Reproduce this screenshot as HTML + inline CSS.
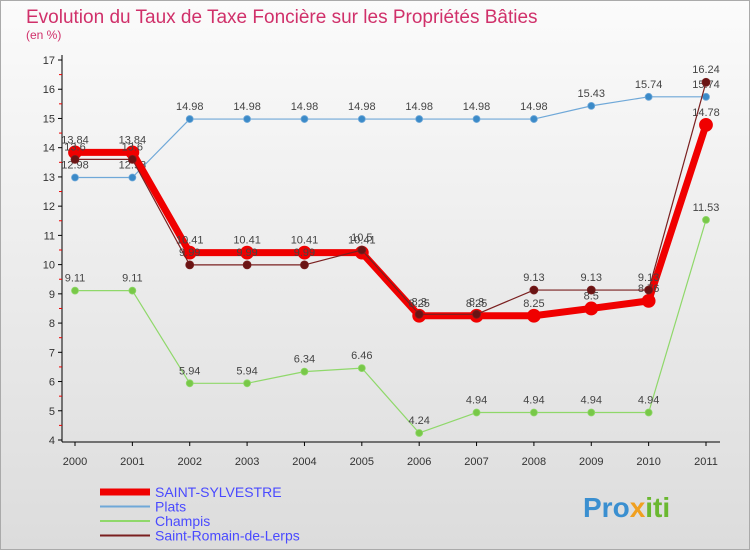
<!DOCTYPE html>
<html><head><meta charset="utf-8"><style>
body{margin:0;width:750px;height:550px;overflow:hidden;font-family:"Liberation Sans",sans-serif}
</style></head><body>
<svg width="750" height="550" xmlns="http://www.w3.org/2000/svg">
<defs><linearGradient id="bg" x1="0" y1="0" x2="0" y2="1"><stop offset="0" stop-color="#fbfbfb"/><stop offset="1" stop-color="#dcdcdc"/></linearGradient></defs>
<rect x="0.5" y="0.5" width="749" height="549" fill="url(#bg)" stroke="#aaa"/>
<text x="26" y="23" font-size="19" fill="#d0306a">Evolution du Taux de Taxe Foncière sur les Propriétés Bâties</text>
<text x="26" y="39" font-size="12" fill="#d0306a">(en %)</text>
<g id="axes"></g><g id="series"></g><g id="legend"></g>
<text x="583" y="517" font-size="28" font-weight="bold" fill="#3a8fd0">Pro<tspan fill="#f0a020">x</tspan><tspan fill="#6ab830">iti</tspan></text>
</svg>
<script>
const years=["2000","2001","2002","2003","2004","2005","2006","2007","2008","2009","2010","2011"];
const yTicks=[4,5,6,7,8,9,10,11,12,13,14,15,16,17];
const sylvestre=[13.84,13.84,10.41,10.41,10.41,10.41,8.25,8.25,8.25,8.5,8.76,14.78];
const plats=[12.98,12.98,14.98,14.98,14.98,14.98,14.98,14.98,14.98,15.43,15.74,15.74];
const champis=[9.11,9.11,5.94,5.94,6.34,6.46,4.24,4.94,4.94,4.94,4.94,11.53];
const romain=[13.6,13.6,9.99,9.99,9.99,10.5,8.3,8.3,9.13,9.13,9.13,16.24];
const NS="http://www.w3.org/2000/svg";
const xs=i=>75+i*(706-75)/11;
const ys=v=>440-(v-4)*(380/13);
function mk(p,tag,at){const e=document.createElementNS(NS,tag);for(const k in at)e.setAttribute(k,at[k]);p.appendChild(e);return e;}
const ax=document.getElementById('axes');
let l=mk(ax,'line',{x1:62,y1:55,x2:62,y2:442,stroke:'#000'});


l=mk(ax,'line',{x1:62,y1:442,x2:720,y2:442,stroke:'#000'});


yTicks.forEach(v=>{const y=ys(v);
 mk(ax,'line',{x1:58,y1:y,x2:62,y2:y,stroke:'#000'});
 if(v<17)mk(ax,'line',{x1:59,y1:ys(v+0.5),x2:62,y2:ys(v+0.5),stroke:'#e00'});
 const t=mk(ax,'text',{x:55,y:y+4,'font-size':11,fill:'#333','text-anchor':'end'});t.textContent=v;
 
 });
years.forEach((yr,i)=>{const t=mk(ax,'text',{x:xs(i),y:465,'font-size':11,fill:'#333','text-anchor':'middle'});t.textContent=yr;
 
 
 mk(ax,'line',{x1:xs(i),y1:442,x2:xs(i),y2:446,stroke:'#000'});});
const sg=document.getElementById('series');
function draw(name,vals,color,w,r,dot){
 const g=mk(sg,'g',{});
 
 
 const pl=mk(g,'polyline',{points:vals.map((v,i)=>xs(i)+','+ys(v)).join(' '),fill:'none',stroke:color,'stroke-width':w,'stroke-linejoin':'round'});
 
 
 vals.forEach((v,i)=>{const c=mk(g,'circle',{cx:xs(i),cy:ys(v),r:r,fill:dot,stroke:color,'stroke-width':0.8});
  
  
  const t=mk(g,'text',{x:xs(i),y:ys(v)-9,'font-size':11,fill:'#444','text-anchor':'middle'});t.textContent=v;
  
  });
}
draw('champis',champis,'#8fd86a',1.2,3.5,'#78c848');
draw('plats',plats,'#6fa8d8',1.2,3.5,'#3b8ac8');
draw('sylvestre',sylvestre,'#f00000',7,6.5,'#f00000');
draw('romain',romain,'#7a2020',1.2,4,'#6a1414');
const lg=document.getElementById('legend');
const items=[['SAINT-SYLVESTRE','#f00000',7],['Plats','#6fa8d8',2],['Champis','#8fd86a',2],['Saint-Romain-de-Lerps','#7a2020',2]];
items.forEach((it,i)=>{const y=492+i*14.5;
 const ln=mk(lg,'line',{x1:100,y1:y,x2:150,y2:y,stroke:it[1],'stroke-width':it[2]});
 
 
 const t=mk(lg,'text',{x:155,y:y+5,'font-size':14,fill:'#4a4aff'});t.textContent=it[0];
 
 });
</script>
</body></html>
